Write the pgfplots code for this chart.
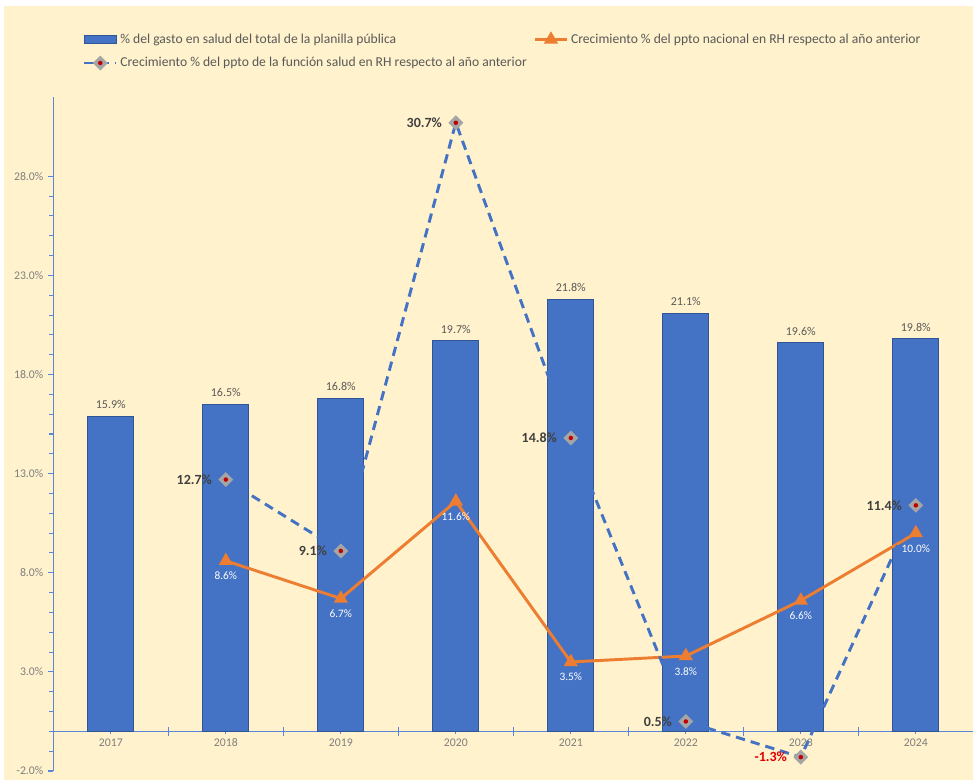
\documentclass[border=0pt]{standalone}
\usepackage{fontspec}
\setmainfont{Carlito}
\usepackage{pgfplots}
\pgfplotsset{compat=1.18}

\definecolor{cream}{HTML}{FFF2CC}
\definecolor{barblue}{HTML}{4472C4}
\definecolor{bardark}{HTML}{2F5597}
\definecolor{axisblue}{HTML}{5B85D6}
\definecolor{orangec}{HTML}{ED7D31}
\definecolor{mkgray}{HTML}{A5A5A5}
\definecolor{mkred}{HTML}{C00000}
\definecolor{labred}{HTML}{E00000}
\definecolor{tickgray}{HTML}{7F7F7F}
\definecolor{textgray}{HTML}{595959}
\definecolor{labgray}{HTML}{404040}

% gray diamond with a red dot in the middle
\pgfdeclareplotmark{gdiamond}{%
  \pgfpathmoveto{\pgfqpoint{0pt}{\pgfplotmarksize}}%
  \pgfpathlineto{\pgfqpoint{\pgfplotmarksize}{0pt}}%
  \pgfpathlineto{\pgfqpoint{0pt}{-\pgfplotmarksize}}%
  \pgfpathlineto{\pgfqpoint{-\pgfplotmarksize}{0pt}}%
  \pgfpathclose
  \pgfsetfillcolor{mkgray}\pgfusepathqfill
  \pgfpathcircle{\pgfpointorigin}{0.3\pgfplotmarksize}%
  \pgfsetfillcolor{mkred}\pgfusepathqfill
}

\pgfplotsset{
  /pgf/number format/assume math mode=true,
  longline/.style={legend image code/.code={%
    \draw[mark repeat=2,mark phase=2,##1] plot coordinates {(0pt,0pt) (12pt,0pt) (24pt,0pt)};}},
  barlegend/.style={legend image code/.code={%
    \fill[barblue,draw=bardark] (0pt,-3pt) rectangle (24pt,3pt);}},
}

\begin{document}
\begin{tikzpicture}
\fill[white] (0,0) rectangle (729.75pt,585pt);
\fill[cream] (3pt,0) rectangle (729.75pt,580.5pt);
\begin{axis}[
    at={(40pt,6.75pt)}, anchor=south west,
    scale only axis, width=690pt, height=505.5pt,
    xmin=-0.5, xmax=7.5, ymin=-2, ymax=32,
    axis x line=middle, axis y line=left,
    axis line style={-, draw=axisblue, line width=0.9pt},
    every tick/.style={draw=axisblue, line width=0.8pt},
    xtick={0,1,2,3,4,5,6,7},
    xticklabels={2017,2018,2019,2020,2021,2022,2023,2024},
    xtick align=center,
    extra x ticks={0.5,1.5,2.5,3.5,4.5,5.5,6.5,7.5},
    extra x tick labels={},
    extra x tick style={/pgfplots/major tick length=7pt},
    major tick length=4pt,
    ytick={-2,3,8,13,18,23,28},
    minor y tick num=4,
    ytick align=outside,
    minor tick length=3pt,
    yticklabel={\pgfmathprintnumber[fixed,fixed zerofill,precision=1]{\tick}\%},
    tick label style={font=\fontsize{8.8}{10}\selectfont, text=tickgray},
    legend columns=2,
    legend style={at={(0.0274,1.102)}, anchor=north west, draw=none, fill=none,
        font=\fontsize{10.2}{12}\selectfont, text=textgray, row sep=5pt,
        cells={anchor=west},
        /tikz/every even column/.append style={column sep=3pt}},
    clip=false,
]
% bars
\addplot[ybar, bar width=34.5pt, bar shift=0pt, fill=barblue, draw=bardark, line width=0.6pt,
    nodes near coords={\pgfmathprintnumber[fixed,fixed zerofill,precision=1]{\pgfplotspointmeta}\%},
    every node near coord/.append style={font=\fontsize{9}{10}\selectfont, text=textgray, yshift=2pt},
    barlegend]
coordinates {(0,15.9) (1,16.5) (2,16.8) (3,19.7) (4,21.8) (5,21.1) (6,19.6) (7,19.8)};
\addlegendentry{\% del gasto en salud del total de la planilla pública}

% national growth
\addplot[orangec, line width=2.2pt, mark=triangle*, mark size=4pt,
    mark options={fill=orangec, draw=orangec},
    nodes near coords={\pgfmathprintnumber[fixed,fixed zerofill,precision=1]{\pgfplotspointmeta}\%},
    every node near coord/.append style={anchor=north, yshift=-4pt, text=white, font=\fontsize{8.5}{10}\selectfont},
    longline]
coordinates {(1,8.6) (2,6.7) (3,11.6) (4,3.5) (5,3.8) (6,6.6) (7,10.0)};
\addlegendentry{Crecimiento \% del ppto nacional en RH respecto al año anterior}

% health function growth
\addplot[barblue, line width=2.2pt, dash pattern=on 7pt off 4.5pt, mark=gdiamond, mark size=5.6pt,
    mark options={solid},
    visualization depends on={y \as \yv},
    nodes near coords={\ifdim\yv pt<0pt\color{labred}\fi\pgfmathprintnumber[fixed,fixed zerofill,precision=1]{\pgfplotspointmeta}\%},
    every node near coord/.append style={anchor=east, xshift=-6pt, text=labgray, font=\bfseries\fontsize{10.5}{12}\selectfont},
    longline]
coordinates {(1,12.7) (2,9.1) (3,30.7) (4,14.8) (5,0.5) (6,-1.3) (7,11.4)};
\addlegendentry{Crecimiento \% del ppto de la función salud en RH respecto al año anterior}
\end{axis}
\pgfresetboundingbox
\useasboundingbox (0,0) rectangle (729.75pt,585pt);
\end{tikzpicture}
\end{document}
